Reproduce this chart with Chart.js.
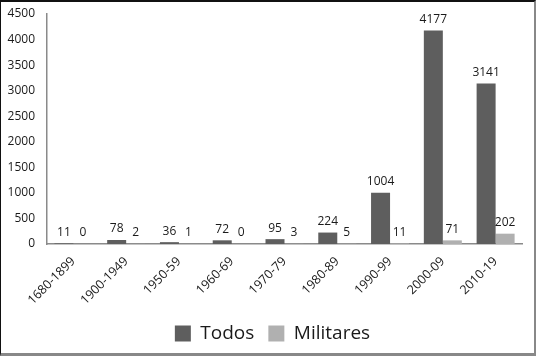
<!DOCTYPE html>
<html>
<head>
<meta charset="utf-8">
<script src="https://cdn.jsdelivr.net/npm/chart.js@4/dist/chart.umd.min.js"></script>
<style>
  html, body { margin: 0; padding: 0; background: #fff; }
  #wrap {
    width: 536px; height: 356px; box-sizing: border-box;
    border-top: 2px solid #111; border-left: 1px solid #111;
    border-right: 2px solid #888; border-bottom: 3px solid #888;
    position: relative; overflow: hidden;
  }
  canvas { display: block; }
</style>
</head>
<body>
<div id="wrap"><canvas id="c" width="533" height="351"></canvas></div>
<script>
const categories = ["1680-1899", "1900-1949", "1950-59", "1960-69", "1970-79", "1980-89", "1990-99", "2000-09", "2010-19"];
const todos = [11, 78, 36, 72, 95, 224, 1004, 4177, 3141];
const militares = [0, 2, 1, 0, 3, 5, 11, 71, 202];
const seriesNames = ["Todos", "Militares"];

const FONT = "'Open Sans', sans-serif";

const valueLabels = {
  id: 'valueLabels',
  afterDatasetsDraw(chart) {
    const ctx = chart.ctx;
    ctx.save();
    ctx.font = "12px " + FONT;
    ctx.fillStyle = "#1a1a1a";
    ctx.textAlign = "center";
    ctx.textBaseline = "bottom";
    chart.data.datasets.forEach((ds, i) => {
      const meta = chart.getDatasetMeta(i);
      meta.data.forEach((bar, j) => {
        ctx.fillText(String(ds.data[j]), bar.x, bar.y - 5);
      });
    });
    ctx.restore();
  }
};

const legendShift = {
  id: 'legendShift',
  afterLayout(chart) {
    if (chart.legend) { chart.legend.left += 11; chart.legend.right += 11; }
  }
};

new Chart(document.getElementById('c'), {
  type: 'bar',
  data: {
    labels: categories,
    datasets: [
      { label: seriesNames[0], data: todos, backgroundColor: '#5e5e5e' },
      { label: seriesNames[1], data: militares, backgroundColor: '#b0b0b0' }
    ]
  },
  options: {
    responsive: false,
    animation: false,
    devicePixelRatio: 1,
    categoryPercentage: 0.72,
    barPercentage: 1.0,
    layout: { padding: { top: 12, right: 12, left: 0, bottom: 0 } },
    plugins: {
      legend: {
        position: 'bottom',
        labels: {
          font: { family: FONT, size: 19 },
          color: '#1a1a1a',
          boxWidth: 16, boxHeight: 16, padding: 14
        }
      },
      tooltip: { enabled: false }
    },
    scales: {
      x: {
        grid: { display: false, drawTicks: false },
        border: { display: true, color: '#8a8a8a', width: 1.5 },
        ticks: {
          font: { family: FONT, size: 12.5 },
          color: '#1a1a1a',
          maxRotation: 45, minRotation: 45, padding: 10
        },
        afterFit(scale) { scale.height = 66; scale.paddingLeft = 0; scale.paddingRight = 0; }
      },
      y: {
        min: 0, max: 4500,
        grid: { display: false, drawTicks: false },
        border: { display: true, color: '#8a8a8a', width: 1.5 },
        ticks: {
          stepSize: 500,
          font: { family: FONT, size: 12 },
          color: '#1a1a1a',
          padding: 12,
          callback: (v) => String(v)
        },
        afterFit(scale) { scale.width = 46; scale.paddingTop = 0; scale.paddingBottom = 0; }
      }
    }
  },
  plugins: [valueLabels, legendShift]
});
</script>
</body>
</html>
